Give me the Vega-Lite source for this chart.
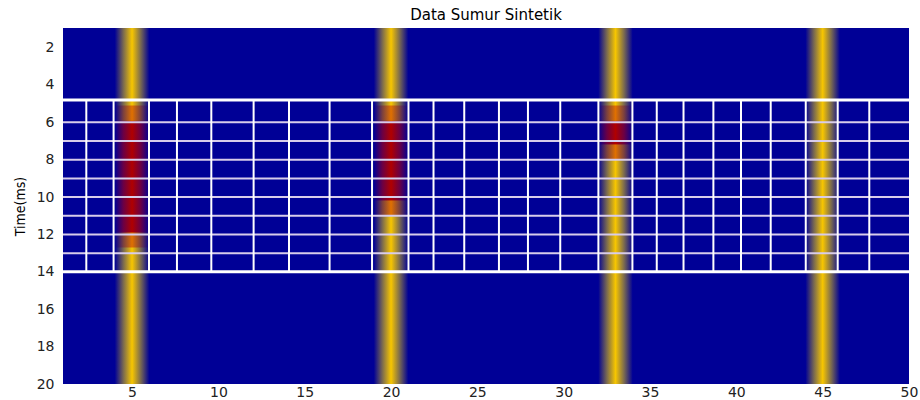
{
  "$schema": "https://vega.github.io/schema/vega-lite/v6.json",
  "width": 846,
  "height": 356,
  "autosize": "none",
  "padding": {"left": 63, "top": 28, "right": 11, "bottom": 16},
  "background": "white",
  "config": {"view": {"fill": "#000096", "stroke": null}, "font": "DejaVu Sans", "axis": {"labelOverlap": false, "labelFlush": false}},
  "title": {"text": "Data Sumur Sintetik", "fontSize": 15, "fontWeight": "normal", "font": "DejaVu Sans", "color": "#000000", "offset": 5, "anchor": "middle"},
  "datasets": {
    "wells": [
      {"well": 5, "x0": 4, "x1": 6, "t0": 0.95, "t1": 20},
      {"well": 20, "x0": 19, "x1": 21, "t0": 0.95, "t1": 20},
      {"well": 33, "x0": 32, "x1": 34, "t0": 0.95, "t1": 20},
      {"well": 45, "x0": 44, "x1": 46, "t0": 0.95, "t1": 20}
    ],
    "red": [
      {"well": 5, "x0": 4, "x1": 6, "t0": 5.9, "t1": 11.9},
      {"well": 20, "x0": 19, "x1": 21, "t0": 5.9, "t1": 10.2},
      {"well": 33, "x0": 32, "x1": 34, "t0": 5.9, "t1": 7.2}
    ],
    "trans": [
      {"well": 5, "x0": 4, "x1": 6, "t0": 5.1, "t1": 5.9},
      {"well": 5, "x0": 4, "x1": 6, "t0": 11.9, "t1": 12.7},
      {"well": 20, "x0": 19, "x1": 21, "t0": 5.1, "t1": 5.9},
      {"well": 20, "x0": 19, "x1": 21, "t0": 10.2, "t1": 11.0},
      {"well": 33, "x0": 32, "x1": 34, "t0": 5.1, "t1": 5.9},
      {"well": 33, "x0": 32, "x1": 34, "t0": 7.2, "t1": 8.0}
    ],
    "vlines": [
      {"x": 2.35}, {"x": 3.93}, {"x": 5.98}, {"x": 7.6}, {"x": 9.59}, {"x": 12.04}, {"x": 14.09}, {"x": 16.44}, {"x": 18.9}, {"x": 21.01}, {"x": 22.46}, {"x": 24.24}, {"x": 26.25}, {"x": 27.93}, {"x": 29.8}, {"x": 32.01}, {"x": 33.98}, {"x": 35.39}, {"x": 36.94}, {"x": 38.67}, {"x": 40.27}, {"x": 41.99}, {"x": 44.02}, {"x": 45.87}, {"x": 47.7}
    ],
    "hthin": [{"y": 6}, {"y": 7}, {"y": 8}, {"y": 9}, {"y": 10}, {"y": 11}, {"y": 12}, {"y": 13}],
    "hthick": [{"y": 4.8}, {"y": 14}]
  },
  "layer": [
    {
      "data": {"name": "wells"},
      "mark": {"type": "rect", "fill": {"gradient": "linear", "x1": 0, "x2": 1, "y1": 0, "y2": 0, "stops": [
        {"offset": 0, "color": "#000096"},
        {"offset": 0.25, "color": "#7A6A50"},
        {"offset": 0.5, "color": "#F7C600"},
        {"offset": 0.75, "color": "#7A6A50"},
        {"offset": 1, "color": "#000096"}
      ]}},
      "encoding": {
        "x": {"field": "x0", "type": "quantitative", "scale": {"domain": [1, 50], "nice": false, "zero": false},
          "axis": {"values": [5, 10, 15, 20, 25, 30, 35, 40, 45, 50], "tickCount": 20, "title": null, "ticks": false, "domain": false, "grid": false, "labelFontSize": 14, "labelColor": "#222222", "labelPadding": 1, "labelFont": "DejaVu Sans", "labelOverlap": false}},
        "x2": {"field": "x1"},
        "y": {"field": "t0", "type": "quantitative", "scale": {"domain": [0.95, 20], "reverse": true, "nice": false, "zero": false},
          "axis": {"values": [2, 4, 6, 8, 10, 12, 14, 16, 18, 20], "tickCount": 20, "title": "Time(ms)", "ticks": false, "domain": false, "grid": false, "labelFontSize": 14, "labelColor": "#222222", "labelPadding": 9, "labelFont": "DejaVu Sans", "labelOverlap": false, "labelFlush": false, "titleFont": "DejaVu Sans Condensed, Liberation Sans Narrow, Liberation Sans", "titleFontSize": 14, "titleFontWeight": "normal", "titleColor": "#000000", "titlePadding": 9}},
        "y2": {"field": "t1"}
      }
    },
    {
      "data": {"name": "red"},
      "mark": {"type": "rect", "fill": {"gradient": "linear", "x1": 0, "x2": 1, "y1": 0, "y2": 0, "stops": [
        {"offset": 0, "color": "#000096"},
        {"offset": 0.25, "color": "#6A0045"},
        {"offset": 0.5, "color": "#B00000"},
        {"offset": 0.75, "color": "#6A0045"},
        {"offset": 1, "color": "#000096"}
      ]}},
      "encoding": {
        "x": {"field": "x0", "type": "quantitative"},
        "x2": {"field": "x1"},
        "y": {"field": "t0", "type": "quantitative"},
        "y2": {"field": "t1"}
      }
    },
    {
      "data": {"name": "trans"},
      "mark": {"type": "rect", "fill": {"gradient": "linear", "x1": 0, "x2": 1, "y1": 0, "y2": 0, "stops": [
        {"offset": 0, "color": "#000096"},
        {"offset": 0.25, "color": "#7A4040"},
        {"offset": 0.5, "color": "#E07000"},
        {"offset": 0.75, "color": "#7A4040"},
        {"offset": 1, "color": "#000096"}
      ]}},
      "encoding": {
        "x": {"field": "x0", "type": "quantitative"},
        "x2": {"field": "x1"},
        "y": {"field": "t0", "type": "quantitative"},
        "y2": {"field": "t1"}
      }
    },
    {
      "data": {"name": "hthin"},
      "mark": {"type": "rule", "color": "#D8CCEA", "strokeWidth": 2},
      "encoding": {"y": {"field": "y", "type": "quantitative"}}
    },
    {
      "data": {"name": "vlines"},
      "mark": {"type": "rule", "color": "#FFFFFF", "strokeWidth": 2},
      "encoding": {
        "x": {"field": "x", "type": "quantitative"},
        "y": {"datum": 4.8},
        "y2": {"datum": 14}
      }
    },
    {
      "data": {"name": "hthick"},
      "mark": {"type": "rule", "color": "#FFFFFF", "strokeWidth": 3},
      "encoding": {"y": {"field": "y", "type": "quantitative"}}
    }
  ]
}
